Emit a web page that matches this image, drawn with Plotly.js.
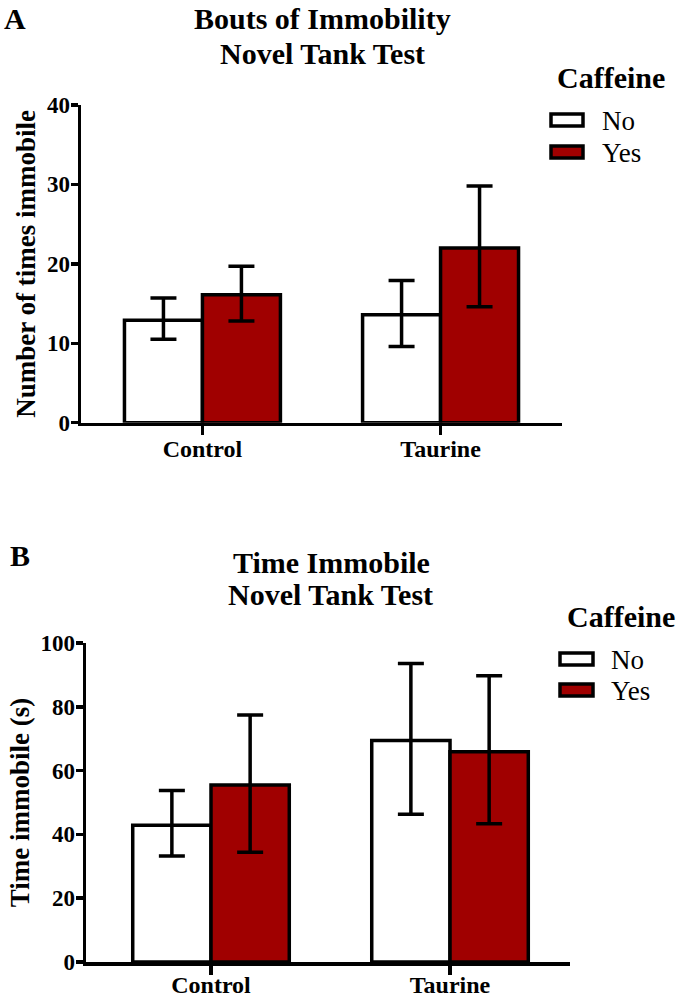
<!DOCTYPE html>
<html>
<head>
<meta charset="utf-8">
<script src="https://cdn.plot.ly/plotly-3.0.1.min.js"></script>
<style>html,body{margin:0;padding:0;background:#fff;}#chart{width:677px;height:998px;}</style>
</head>
<body>
<div id="chart"></div>
<script>
// ---- data ----
const groups = ['Control', 'Taurine'];
const caffeineLevels = ['No', 'Yes'];
const legendTitle = 'Caffeine';

// Panel A: Bouts of immobility (number of times immobile)
const boutsNoMean = [12.9, 13.6];
const boutsNoHigh = [15.7, 17.9];
const boutsNoLow  = [10.5, 9.6];
const boutsYesMean = [16.1, 22.0];
const boutsYesHigh = [19.7, 29.8];
const boutsYesLow  = [12.8, 14.6];

// Panel B: Time immobile (s)
const timeNoMean = [42.9, 69.4];
const timeNoHigh = [53.8, 93.6];
const timeNoLow  = [33.2, 46.3];
const timeYesMean = [55.5, 65.9];
const timeYesHigh = [77.4, 89.7];
const timeYesLow  = [34.4, 43.3];

const panelATitle = ['Bouts of Immobility', 'Novel Tank Test'];
const panelBTitle = ['Time Immobile', 'Novel Tank Test'];
const panelAYLabel = 'Number of times immobile';
const panelBYLabel = 'Time immobile (s)';
const panelATicks = [0, 10, 20, 30, 40];
const panelBTicks = [0, 20, 40, 60, 80, 100];

// ---- style ----
const W = 677, H = 998;
const FONT = 'Liberation Serif';
const RED = '#a00000';
const fills = ['#ffffff', RED];
const X = p => p / W;
const Y = p => 1 - p / H;

function up(hi, m) { return hi.map((v, i) => +(v - m[i]).toFixed(2)); }
function down(lo, m) { return lo.map((v, i) => +(m[i] - v).toFixed(2)); }

function barTrace(name, mean, hi, lo, fill, xa, ya) {
  return {
    type: 'bar', name: name, x: groups, y: mean, xaxis: xa, yaxis: ya,
    marker: { color: fill, line: { color: '#000', width: 3.5 } },
    error_y: { type: 'data', symmetric: false, array: up(hi, mean), arrayminus: down(lo, mean),
               color: '#000', thickness: 3.5, width: 13 },
    showlegend: false, hoverinfo: 'skip'
  };
}

const traces = [
  barTrace(caffeineLevels[0], boutsNoMean, boutsNoHigh, boutsNoLow, fills[0], 'x', 'y'),
  barTrace(caffeineLevels[1], boutsYesMean, boutsYesHigh, boutsYesLow, fills[1], 'x', 'y'),
  barTrace(caffeineLevels[0], timeNoMean, timeNoHigh, timeNoLow, fills[0], 'x2', 'y2'),
  barTrace(caffeineLevels[1], timeYesMean, timeYesHigh, timeYesLow, fills[1], 'x2', 'y2')
];

function xAxis(domain, range, anchor, labelShift) {
  return {
    domain: domain, range: range, anchor: anchor, type: 'category',
    showline: true, linecolor: '#000', linewidth: 3.5,
    ticks: 'outside', ticklen: 9, tickwidth: 3.5, tickcolor: '#000',
    ticklabelstandoff: labelShift,
    tickfont: { family: FONT, size: 24, color: '#000', weight: 'bold' },
    showgrid: false, zeroline: false, fixedrange: true
  };
}
function yAxis(domain, range, tickvals, anchor, title, standoff) {
  return {
    domain: domain, range: range, anchor: anchor,
    tickmode: 'array', tickvals: tickvals,
    showline: true, linecolor: '#000', linewidth: 3.5,
    ticks: 'outside', ticklen: 7, tickwidth: 3.5, tickcolor: '#000',
    ticklabelstandoff: -4,
    tickfont: { family: FONT, size: 23, color: '#000', weight: 'bold' },
    title: { text: title, standoff: standoff, font: { family: FONT, size: 27, color: '#000', weight: 'bold' } },
    showgrid: false, zeroline: false, fixedrange: true
  };
}

function legend(boxX0, boxX1, yNo, yYes, textX, titleX, titleY) {
  const shapes = [yNo, yYes].map((yc, i) => ({
    type: 'rect', xref: 'paper', yref: 'paper',
    x0: X(boxX0), x1: X(boxX1), y0: Y(yc + 6), y1: Y(yc - 6),
    fillcolor: fills[i], line: { color: '#000', width: 3.5 }
  }));
  const anns = [
    { text: '<b>' + legendTitle + '</b>', x: X(titleX), y: Y(titleY), xanchor: 'center', yanchor: 'middle',
      font: { family: FONT, size: 30, color: '#000' } },
    { text: caffeineLevels[0], x: X(textX), y: Y(yNo + 1), xanchor: 'left', yanchor: 'middle',
      font: { family: FONT, size: 27, color: '#000', weight: 'normal' } },
    { text: caffeineLevels[1], x: X(textX), y: Y(yYes + 1), xanchor: 'left', yanchor: 'middle',
      font: { family: FONT, size: 27, color: '#000', weight: 'normal' } }
  ];
  return { shapes, anns };
}

const legA = legend(551, 583, 120, 152, 600, 611, 78);
const legB = legend(560, 593, 659, 690, 609, 621, 616);

function txt(t, px, py, size, anchor) {
  return { text: '<b>' + t + '</b>', x: X(px), y: Y(py), xanchor: anchor || 'center', yanchor: 'middle',
           showarrow: false, font: { family: FONT, size: size, color: '#000' } };
}

const annotations = [
  txt('A', 2, 19, 30, 'left'),
  txt(panelATitle[0], 322, 19, 30),
  txt(panelATitle[1], 322, 53, 30),
  txt('B', 8, 555, 30, 'left'),
  txt(panelBTitle[0], 331, 562, 30),
  txt(panelBTitle[1], 330, 594, 30)
].concat(legA.anns, legB.anns).map(a => Object.assign({ showarrow: false, xref: 'paper', yref: 'paper' }, a));

const layout = {
  width: W, height: H,
  margin: { l: 0, r: 0, t: 0, b: 0 },
  paper_bgcolor: '#fff', plot_bgcolor: 'rgba(0,0,0,0)',
  barmode: 'group', bargap: 0.345, bargroupgap: 0,
  showlegend: false,
  xaxis: xAxis([X(81), X(562)], [-0.51, 1.51], 'y', -7),
  yaxis: yAxis([Y(422.7), Y(105)], [0, 40], panelATicks, 'x', panelAYLabel, 4),
  xaxis2: xAxis([X(86), X(570)], [-0.523, 1.502], 'y2', -10),
  yaxis2: yAxis([Y(962), Y(643)], [0, 100], panelBTicks, 'x2', panelBYLabel, 4),
  shapes: legA.shapes.concat(legB.shapes),
  annotations: annotations
};

Plotly.newPlot('chart', traces, layout, { displayModeBar: false, staticPlot: true });
</script>
</body>
</html>
